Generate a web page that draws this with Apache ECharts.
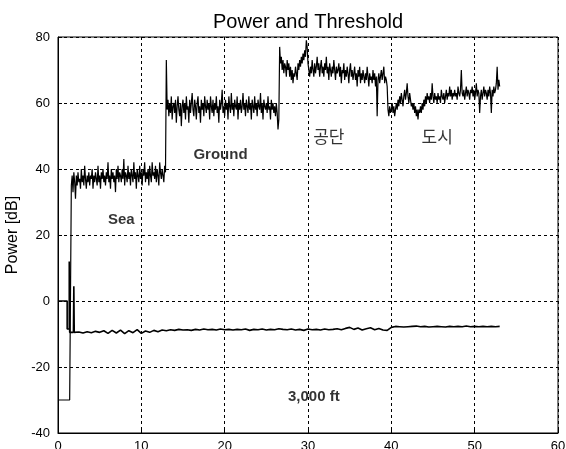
<!DOCTYPE html>
<html>
<head>
<meta charset="utf-8">
<script src="https://cdn.jsdelivr.net/npm/echarts@6/dist/echarts.min.js"></script>
<style>html,body{margin:0;padding:0;background:#fff}#c{width:566px;height:449px}</style>
</head>
<body>
<div id="c"></div>
<script>
// ---- Data ----
var xTicks = [0, 10, 20, 30, 40, 50, 60];
var yTicks = [-40, -20, 0, 20, 40, 60, 80];
var sampleStep = 0.1;

// Power lead-in [x, dB]
var powerLead = [[0, -30], [1.4, -30]];
// Sea segment, starts x=1.6
var seaStart = 1.6;
var seaPower = [
35,38,33,39,36,31,38,35,39,36,
37,34,40,36,38,35,41,37,34,38,
36,39,35,38,37,40,34,38,36,39,
37,35,41,36,38,34,39,37,40,36,
38,35,39,37,42,36,38,34,40,37,
39,36,38,33,40,37,41,36,39,38,
36,40,37,43,35,39,38,36,41,37,
39,35,40,38,36,42,37,39,34,40,
38,36,41,37,39,35,40,38,42,36,
39,37,40,35,41,38,36,42,38,39,
37,41,36,40,38,35,42,39,37,40,
38,36,41,39
];
// Ground segment, starts x=13.0
var groundStart = 13.0;
var groundPower = [
73,58,61,56,60,57,62,55,59,60,
57,61,54,59,62,58,56,60,53,59,
61,57,60,55,62,58,59,54,61,57,
60,63,58,56,61,59,55,60,62,57,
59,54,61,58,60,56,62,59,57,61,
58,60,55,62,59,57,61,56,60,58,
62,57,59,54,61,58,60,64,57,59,
56,61,58,60,55,62,59,57,63,58,
60,56,61,59,58,62,55,60,58,61,
57,59,63,58,60,56,61,59,57,62,
58,60,55,61,59,57,62,58,60,56,
61,59,58,63,57,60,55,61,59,58,
60,57,62,58,59,55,61,58,60,57,
59,56,60,57,52,55
];
// Industrial complex (공단) segment, starts x=26.6
var industryStart = 26.6;
var industryPower = [
77,72,74,70,73,69,72,71,68,73,
70,72,68,71,67,70,66,69,68,71,
69,67,72,70,73,71,74,72,75,73,
76,74,79,77,72,70,68,71,69,73,
70,68,72,69,71,74,70,72,68,71,
73,69,71,68,72,70,74,69,71,67,
72,70,68,71,69,73,70,67,71,69,
70,72,68,71,66,70,69,72,67,70,
68,71,69,66,70,72,68,70,67,69,
71,67,69,65,70,68,71,66,69,67,
70,68,66,69,67,71,68,65,69,67,
68,66,70,67,69,65,68,56,67,69,
66,68,70,67,69,71,66,68,67,65
];
// City (도시) segment, starts x=39.6
var cityStart = 39.6;
var cityPower = [
58,56,59,57,58,60,57,59,56,58,
60,58,61,59,62,60,63,61,59,62,
64,61,63,66,62,60,63,61,59,60,
58,60,57,59,56,58,55,58,57,59,
57,60,58,61,59,62,60,63,61,62,
60,63,61,66,62,60,63,61,62,60,
63,61,62,60,64,62,61,63,60,62,
64,61,63,62,65,62,64,61,63,62,
64,62,63,61,65,63,62,64,70,63,
62,64,61,63,65,62,64,63,61,64,
63,65,62,64,61,63,66,62,64,63,
57,62,64,61,63,65,62,64,63,61,
64,62,65,63,57,64,62,65,63,64,
66,71,64,67,65
];

// Threshold lead-in [x, dB]
var thresholdLead = [[0, 0], [1.1, 0], [1.1, -8.5], [1.35, -8.5], [1.35, 12], [1.4, -9.5], [1.85, -9.5], [1.9, 4.5], [1.95, -9.5]];
var thresholdStep = 0.5;
var thresholdEarlyStart = 2.0;
var thresholdEarly = [
-9.6,-9.4,-9.7,-9.3,-9.6,-9.2,-9.5,-9.0,-9.8,-8.9,
-9.7,-8.8,-9.9,-9.0,-9.6,-8.7,-9.8,-9.1,-9.5,-8.9,
-9.3,-8.8,-9.0,-8.7,-8.9,-8.6,-8.8,-8.7,-8.9,-8.6,
-8.8,-8.5,-8.7,-8.6,-8.8,-8.5,-8.7,-8.6,-8.8,-8.6,
-8.7,-8.5,-8.9,-8.6,-8.7,-8.5,-8.8,-8.6,-8.7,-8.4,
-8.6,-8.7,-8.5,-8.8,-8.6,-8.9,-8.5,-8.7,-8.6,-8.8,
-8.5,-8.7,-8.6,-8.4,-8.7,-8.3,-8.0,-8.6,-8.2,-8.8,
-8.4,-8.1,-8.7,-8.3,-8.8,-8.9
];
var thresholdLateStart = 40.0;
var thresholdLate = [
-8.0,-7.7,-7.8,-7.9,-7.8,-7.7,-7.6,-7.8,-7.7,-7.9,
-7.8,-7.7,-7.8,-7.9,-7.7,-7.8,-7.7,-7.8,-7.6,-7.8,
-7.7,-7.8,-7.7,-7.8,-7.7,-7.8,-7.7
];

// Annotations [x, dB, text]
var annotations = [
  [7.6, 24.5, 'Sea'],
  [19.5, 44.2, 'Ground'],
  [30.7, -28.9, '3,000 ft']
];
var koreanAnnotations = [
  [32.5, 49.8, '공단'],
  [45.5, 49.8, '도시']
];

// ---- Build series ----
function seg(start, step, vals) {
  return vals.map(function (v, i) { return [+(start + i * step).toFixed(3), v]; });
}
var powerData = powerLead
  .concat(seg(seaStart, sampleStep, seaPower))
  .concat(seg(groundStart, sampleStep, groundPower))
  .concat(seg(industryStart, sampleStep, industryPower))
  .concat(seg(cityStart, sampleStep, cityPower));
var thresholdData = thresholdLead
  .concat(seg(thresholdEarlyStart, thresholdStep, thresholdEarly))
  .concat(seg(thresholdLateStart, thresholdStep, thresholdLate));

var chart = echarts.init(document.getElementById('c'), null, {renderer: 'canvas'});
var font = 'Liberation Sans, Arial, sans-serif';
function textSeries(data, family, size, weight) {
  return {
    type: 'scatter', data: data, symbol: 'circle', symbolSize: 0, silent: true,
    itemStyle: {color: 'transparent'}, z: 5,
    emphasis: {disabled: true},
    label: {show: true, position: 'inside', formatter: function (p) { return p.data[2]; },
            fontFamily: family, fontSize: size, fontWeight: weight, color: '#000'},
    labelLayout: {hideOverlap: false}
  };
}
chart.setOption({
  animation: false,
  backgroundColor: '#fff',
  tooltip: {show: false},
  title: {
    text: 'Power and Threshold', left: 208, top: 7,
    textStyle: {fontFamily: font, fontSize: 20, fontWeight: 'normal', color: '#000'}
  },
  grid: {left: 58, right: 8, top: 37, bottom: 16, show: true, borderColor: '#000', borderWidth: 1,
         backgroundColor: 'transparent', containLabel: false, outerBoundsMode: 'none'},
  xAxis: {
    type: 'value', min: xTicks[0], max: xTicks[xTicks.length - 1], interval: 10,
    axisLine: {show: true, onZero: false, lineStyle: {color: '#000', width: 1}},
    axisTick: {show: true, inside: true, length: 4, lineStyle: {color: '#000'}},
    axisLabel: {margin: 7, color: '#000', fontFamily: font, fontSize: 13},
    splitLine: {show: true, lineStyle: {color: '#000', type: [3, 3], width: 1}}
  },
  yAxis: {
    type: 'value', min: yTicks[0], max: yTicks[yTicks.length - 1], interval: 20,
    name: 'Power [dB]', nameLocation: 'middle', nameGap: 33,
    nameTextStyle: {fontFamily: font, fontSize: 16, color: '#000'},
    axisLine: {show: true, onZero: false, lineStyle: {color: '#000', width: 1}},
    axisTick: {show: true, inside: true, length: 4, lineStyle: {color: '#000'}},
    axisLabel: {margin: 8, color: '#000', fontFamily: font, fontSize: 13},
    splitLine: {show: true, lineStyle: {color: '#000', type: [3, 3], width: 1}}
  },
  series: [
    {type: 'line', data: powerData, showSymbol: false, symbol: 'none', silent: true, lineStyle: {color: '#000', width: 1.2}, z: 3},
    {type: 'line', data: thresholdData, showSymbol: false, symbol: 'none', silent: true, lineStyle: {color: '#000', width: 1.6}, z: 3},
    textSeries(annotations, font, 15, 'bold'),
    textSeries(koreanAnnotations, 'Noto Sans CJK KR, sans-serif', 17, 'normal')
  ]
});
</script>
</body>
</html>
